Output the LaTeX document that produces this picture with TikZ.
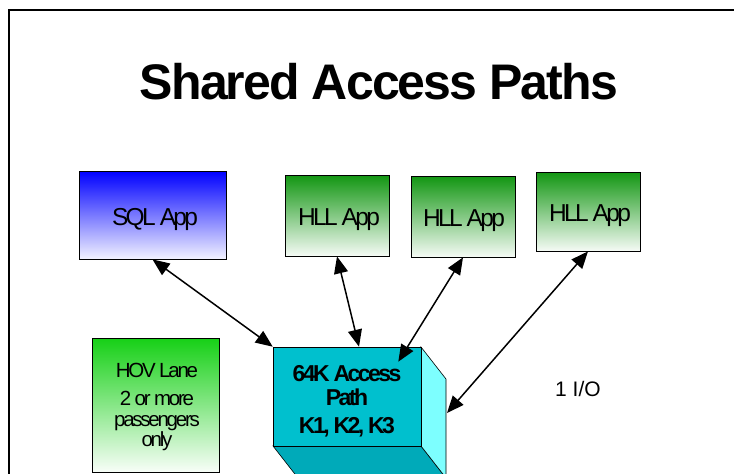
\documentclass[tikz,border=0pt]{standalone}
\usepackage{fontspec}
\setmainfont{Liberation Sans}
\newfontfamily\titlefont[LetterSpace=-3.8]{Liberation Sans}
\newfontfamily\tightfont[LetterSpace=-11]{Liberation Sans}
\usetikzlibrary{arrows.meta,calc}
\definecolor{sqlblue}{RGB}{0,0,255}
\definecolor{hllgreen}{RGB}{18,150,18}
\definecolor{hovgreen}{RGB}{22,208,22}
\definecolor{cubefront}{RGB}{0,192,206}
\definecolor{cubeside}{RGB}{125,255,255}
\definecolor{cubebottom}{RGB}{0,170,185}
\begin{document}
\begin{tikzpicture}[x=1pt,y=-1pt,
  box/.style={draw=black, line width=0.8pt, inner sep=0pt},
  sqlbox/.style={box, top color=sqlblue, bottom color=white!95!sqlblue},
  hllbox/.style={box, top color=hllgreen, bottom color=white!96!hllgreen},
  apptext/.style={anchor=base, inner sep=0pt, font=\tightfont\fontsize{24.5}{28}\selectfont},
  hovtext/.style={anchor=base, inner sep=0pt, font=\tightfont\fontsize{20.5}{24}\selectfont},
  cubetext/.style={anchor=base, inner sep=0pt, font=\tightfont\bfseries\fontsize{23}{27}\selectfont},
  link/.style={line width=1.5pt,
    {Triangle[length=17pt,width=14pt]}-{Triangle[length=17pt,width=14pt]}}
]
\clip (0,0) rectangle (734,474);
\fill[white] (0,0) rectangle (734,474);

% slide frame
\draw[line width=1.4pt] (9,490) -- (9,10) -- (750,10);

% title
\node (title) [anchor=base, inner sep=0pt,
  font=\titlefont\bfseries\fontsize{50}{56}\selectfont] at (379,99) {Shared Access Paths};

% application boxes
\node (sql)  [sqlbox, minimum width=147pt, minimum height=88pt] at (152.5,215) {};
\node (hll1) [hllbox, minimum width=104pt, minimum height=81pt] at (337,215.5) {};
\node (hll2) [hllbox, minimum width=104pt, minimum height=81pt] at (463,216.5) {};
\node (hll3) [hllbox, minimum width=104pt, minimum height=79pt] at (588,211.5) {};
\node (sqltext)  [apptext] at (155,225) {SQL App};
\node (hll1text) [apptext] at (339,225.5) {HLL App};
\node (hll2text) [apptext] at (464,226.5) {HLL App};
\node (hll3text) [apptext] at (590,221.5) {HLL App};

% HOV lane note
\node (hov) [box, top color=hovgreen, bottom color=white!97!hovgreen,
  minimum width=127pt, minimum height=134pt] at (155.5,405) {};
\node (hov1) [hovtext] at (157,377.3) {HOV Lane};
\node (hov2) [hovtext] at (157,405) {2 or more};
\node (hov3) [hovtext] at (157,426.5) {passengers};
\node (hov4) [hovtext] at (157,446.7) {only};

% access path block drawn as a box
\filldraw[fill=cubebottom, draw=black, line width=0.6pt]
  (273,446) -- (421,446) -- (446,478) -- (298,478) -- cycle;
\filldraw[fill=cubeside, draw=black, line width=0.6pt]
  (421,347) -- (446,379) -- (446,478) -- (421,446) -- cycle;
\node (front) [box, line width=0.6pt, fill=cubefront, minimum width=148pt,
  minimum height=99pt] at (347,396.5) {};
\node (cube1) [cubetext] at (347,381.7) {64K Access};
\node (cube2) [cubetext] at (347,405.3) {Path};
\node (cube3) [cubetext] at (347,433.3) {K1, K2, K3};
\coordinate (sidehit) at (447,413);

% I/O label
\node (io) [anchor=base, inner sep=0pt, font=\fontsize{21}{25}\selectfont] at (578,396) {1 I/O};

% shared access connectors
\draw[link] (sql.south) -- (front.north west);
\draw[link] (hll1.south) -- ([xshift=12pt]front.north);
\draw[link] (hll2.south) -- ([xshift=-23pt,yshift=-15pt]front.north east);
\draw[link] (hll3.south) -- (sidehit);
\end{tikzpicture}
\end{document}
